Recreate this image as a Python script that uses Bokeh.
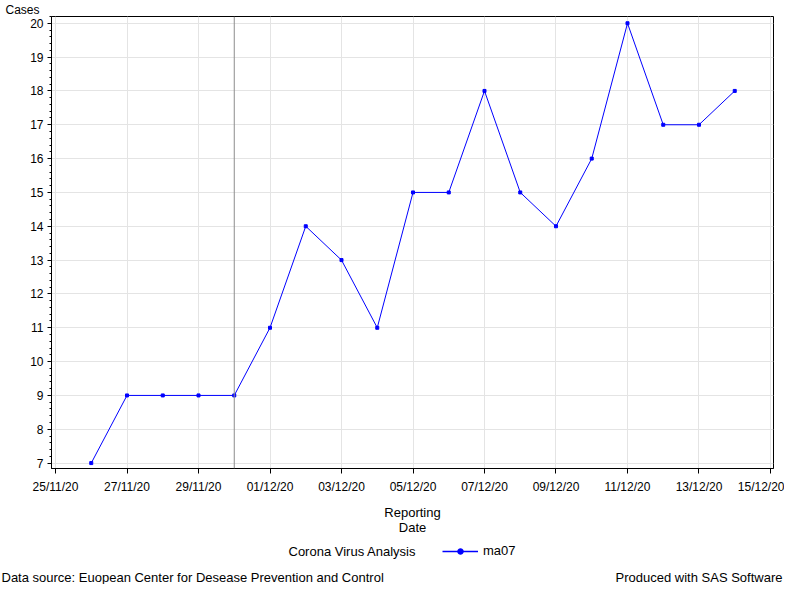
import pandas as pd
from bokeh.plotting import figure
from bokeh.layouts import column
from bokeh.models import (ColumnDataSource, Range1d, FixedTicker, SingleIntervalTicker,
                          DatetimeTickFormatter, Span, Label, Legend, LegendItem)
from bokeh.embed import file_html
from bokeh.resources import INLINE

# ---- data ----
dates = ["2020-11-26", "2020-11-27", "2020-11-28", "2020-11-29", "2020-11-30",
         "2020-12-01", "2020-12-02", "2020-12-03", "2020-12-04", "2020-12-05",
         "2020-12-06", "2020-12-07", "2020-12-08", "2020-12-09", "2020-12-10",
         "2020-12-11", "2020-12-12", "2020-12-13", "2020-12-14"]
ma07 = [7, 9, 9, 9, 9, 11, 14, 13, 11, 15, 15, 18, 15, 14, 16, 20, 17, 17, 18]
x_tick_dates = ["2020-11-25", "2020-11-27", "2020-11-29", "2020-12-01", "2020-12-03",
                "2020-12-05", "2020-12-07", "2020-12-09", "2020-12-11", "2020-12-13",
                "2020-12-15"]
ref_date = "2020-11-30"
y_label = "Cases"
x_label = "Reporting\nDate"
legend_title = "Corona Virus Analysis"
series_name = "ma07"
footer_left = "Data source: Euopean Center for Desease Prevention and Control"
footer_right = "Produced with SAS Software"

DAY = 86400000.0
def ms(d):
    return pd.Timestamp(d).value / 1e6

tick_ms = [ms(d) for d in x_tick_dates]
source = ColumnDataSource(dict(date=pd.to_datetime(dates), ma07=ma07))

FONT = "Liberation Sans"
BLUE = "#0000ff"

W = 784
H_MAIN = 540
H_FOOT = 44

p = figure(width=W, height=H_MAIN, output_backend="svg", toolbar_location=None,
           x_axis_type="datetime",
           x_range=Range1d(tick_ms[0] - 0.112 * DAY, tick_ms[-1] + 0.084 * DAY),
           y_range=Range1d(6.84, 20.2),
           min_border_left=51, min_border_right=11, min_border_top=16, min_border_bottom=72)
p.outline_line_color = "black"
p.outline_line_alpha = 1
p.background_fill_color = "white"
p.border_fill_color = "white"

# "Cases" label as a left-aligned title above the frame
p.title.text = y_label
p.title.align = "left"
p.title.offset = -46
p.title.standoff = 0
p.title.text_font = FONT
p.title.text_font_size = "12px"
p.title.text_font_style = "normal"
p.title.text_color = "black"

# grid
p.xgrid.ticker = FixedTicker(ticks=tick_ms)
p.xgrid.grid_line_color = "#e4e4e4"
p.ygrid.grid_line_color = "#e4e4e4"

# x axis
xa = p.xaxis[0]
xa.ticker = FixedTicker(ticks=tick_ms)
xa.formatter = DatetimeTickFormatter(days="%d/%m/%y", months="%d/%m/%y", hours="%d/%m/%y")
xa.major_tick_out = 5
xa.major_tick_in = 0
xa.major_label_standoff = 6
xa.axis_label = x_label
xa.axis_label_standoff = 8
xa.axis_label_text_font_style = "normal"
xa.axis_label_text_line_height = 1.05

# y axis
ya = p.yaxis[0]
ya.ticker = SingleIntervalTicker(interval=1, num_minor_ticks=5)
ya.major_tick_out = 4
ya.major_tick_in = 0
ya.minor_tick_out = 2
ya.minor_tick_in = 0
ya.major_label_standoff = 4

for ax in (xa, ya):
    ax.axis_line_color = "black"
    ax.major_tick_line_color = "black"
    ax.major_label_text_font = FONT
    ax.major_label_text_font_size = "12px"
    ax.major_label_text_color = "black"
    ax.axis_label_text_font = FONT
    ax.axis_label_text_font_size = "13px"
    ax.axis_label_text_color = "black"
xa.minor_tick_line_color = None
ya.minor_tick_line_color = "black"

# reference line
p.add_layout(Span(location=ms(ref_date), dimension="height", line_color="#8c8c8c", line_width=1))

# series
p.line("date", "ma07", source=source, line_color=BLUE, line_width=1)
p.scatter("date", "ma07", source=source, marker="square", size=3,
          fill_color=BLUE, line_color=BLUE)

# ---- footer strip: legend and notes ----
f = figure(width=W, height=H_FOOT, output_backend="svg", toolbar_location=None,
           x_range=Range1d(0, W), y_range=Range1d(0, H_FOOT),
           x_axis_location=None, y_axis_location=None,
           min_border=0, outline_line_color=None)
for fig in (p, f):
    if "frame_align" in fig.properties():
        fig.frame_align = False
f.xgrid.grid_line_color = None
f.ygrid.grid_line_color = None
f.background_fill_color = "white"
f.border_fill_color = "white"

# legend-only renderers (same data; they fall outside this strip's ranges)
leg_line = f.line("date", "ma07", source=source, line_color=BLUE, line_width=1.5)
leg_dot = f.scatter("date", "ma07", source=source, marker="circle", size=8,
                    fill_color=BLUE, line_color=BLUE)
legend = Legend(items=[LegendItem(label=series_name, renderers=[leg_line, leg_dot])],
                location=(442, 26), orientation="horizontal",
                border_line_color=None, background_fill_alpha=0,
                padding=0, margin=0, spacing=0,
                glyph_width=36, glyph_height=14, label_height=14,
                label_standoff=5, label_text_font=FONT, label_text_font_size="13px",
                label_text_color="black")
f.add_layout(legend)

def add_label(x, y, text, align="left"):
    f.add_layout(Label(x=x, y=y, text=text,
                       text_font=FONT, text_font_size="13px", text_color="black",
                       text_align=align, text_baseline="middle"))

add_label(288, 33, legend_title)
add_label(1, 7, footer_left)
add_label(W - 2, 7, footer_right, align="right")

layout = column(p, f, spacing=0)
open("out.html", "w").write(file_html(layout, INLINE))
